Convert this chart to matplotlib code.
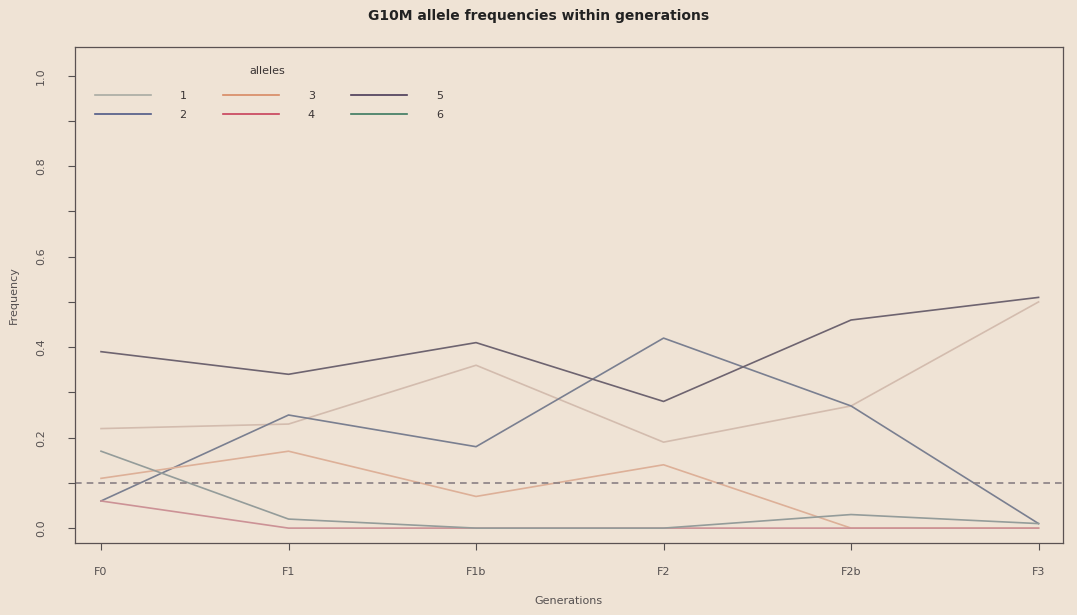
import numpy as np
import matplotlib.pyplot as plt
from matplotlib.lines import Line2D

# Generations and allele frequencies
generations = ['F0', 'F1', 'F1b', 'F2', 'F2b', 'F3']
allele_1 = [0.22, 0.23, 0.36, 0.19, 0.27, 0.50]
allele_2 = [0.06, 0.25, 0.18, 0.42, 0.27, 0.01]
allele_3 = [0.11, 0.17, 0.07, 0.14, 0.00, 0.00]
allele_4 = [0.06, 0.00, 0.00, 0.00, 0.00, 0.00]
allele_5 = [0.39, 0.34, 0.41, 0.28, 0.46, 0.51]
allele_6 = [0.17, 0.02, 0.00, 0.00, 0.03, 0.01]
threshold = 0.1

alleles = ['1', '2', '3', '4', '5', '6']
series = [allele_1, allele_2, allele_3, allele_4, allele_5, allele_6]
colors = ['#d3bcae', '#7a7f90', '#ddb098', '#cc9296', '#6e6470', '#949c9a']
legend_colors = ['#a9aba3', '#4f5a86', '#d88a63', '#c8405a', '#4a3a58', '#3b7a60']

bg = '#efe3d5'
ink = '#3a3434'
grey = '#555050'

fig = plt.figure(figsize=(10.77, 6.15), dpi=100, facecolor=bg)
ax = fig.add_axes([0.0696, 0.117, 0.917, 0.807], facecolor=bg)

x = np.arange(len(generations))
for vals, c in zip(series, colors):
    ax.plot(x, vals, color=c, lw=1.2)

ax.axhline(threshold, color='#8a8084', lw=1.2, linestyle=(0, (4, 3)))

ax.set_xlim(-0.139, 5.128)
ax.set_ylim(-0.033, 1.064)
ax.set_xticks(x)
ax.set_xticklabels(generations, fontsize=8, color=grey)
yt = np.arange(0, 1.01, 0.1)
ax.set_yticks(yt)
ax.set_yticklabels([f'{v:.1f}' if i % 2 == 0 else '' for i, v in enumerate(yt)],
                   rotation=90, va='center', fontsize=8, color=grey)
ax.tick_params(colors=grey, length=5, width=0.8, pad=12)
ax.tick_params(axis='y', pad=16)
for s in ax.spines.values():
    s.set_color('#5a5252')
    s.set_linewidth(0.9)

ax.set_xlabel('Generations', fontsize=8, color=grey, labelpad=14)
ax.set_ylabel('Frequency', fontsize=8, color=grey, labelpad=12)
fig.suptitle('G10M allele frequencies within generations', fontsize=10,
             fontweight='bold', color='#222', y=0.985)

# legend: title drawn separately, three columns, no frame
ax.text(0.1945, 0.952, 'alleles', transform=ax.transAxes, ha='center',
        va='center', fontsize=8, color=ink)
handles = [Line2D([0], [0], color=c, lw=1.2) for c in legend_colors]
leg = ax.legend(handles, alleles, ncol=3, loc='upper left',
                bbox_to_anchor=(0.0203, 0.911), frameon=False, fontsize=8,
                borderaxespad=0, borderpad=0,
                handlelength=5.0, handletextpad=2.6,
                columnspacing=3.3, labelspacing=0.8)
for t in leg.get_texts():
    t.set_color(ink)

fig.savefig('out.png', dpi=100, facecolor=bg)
